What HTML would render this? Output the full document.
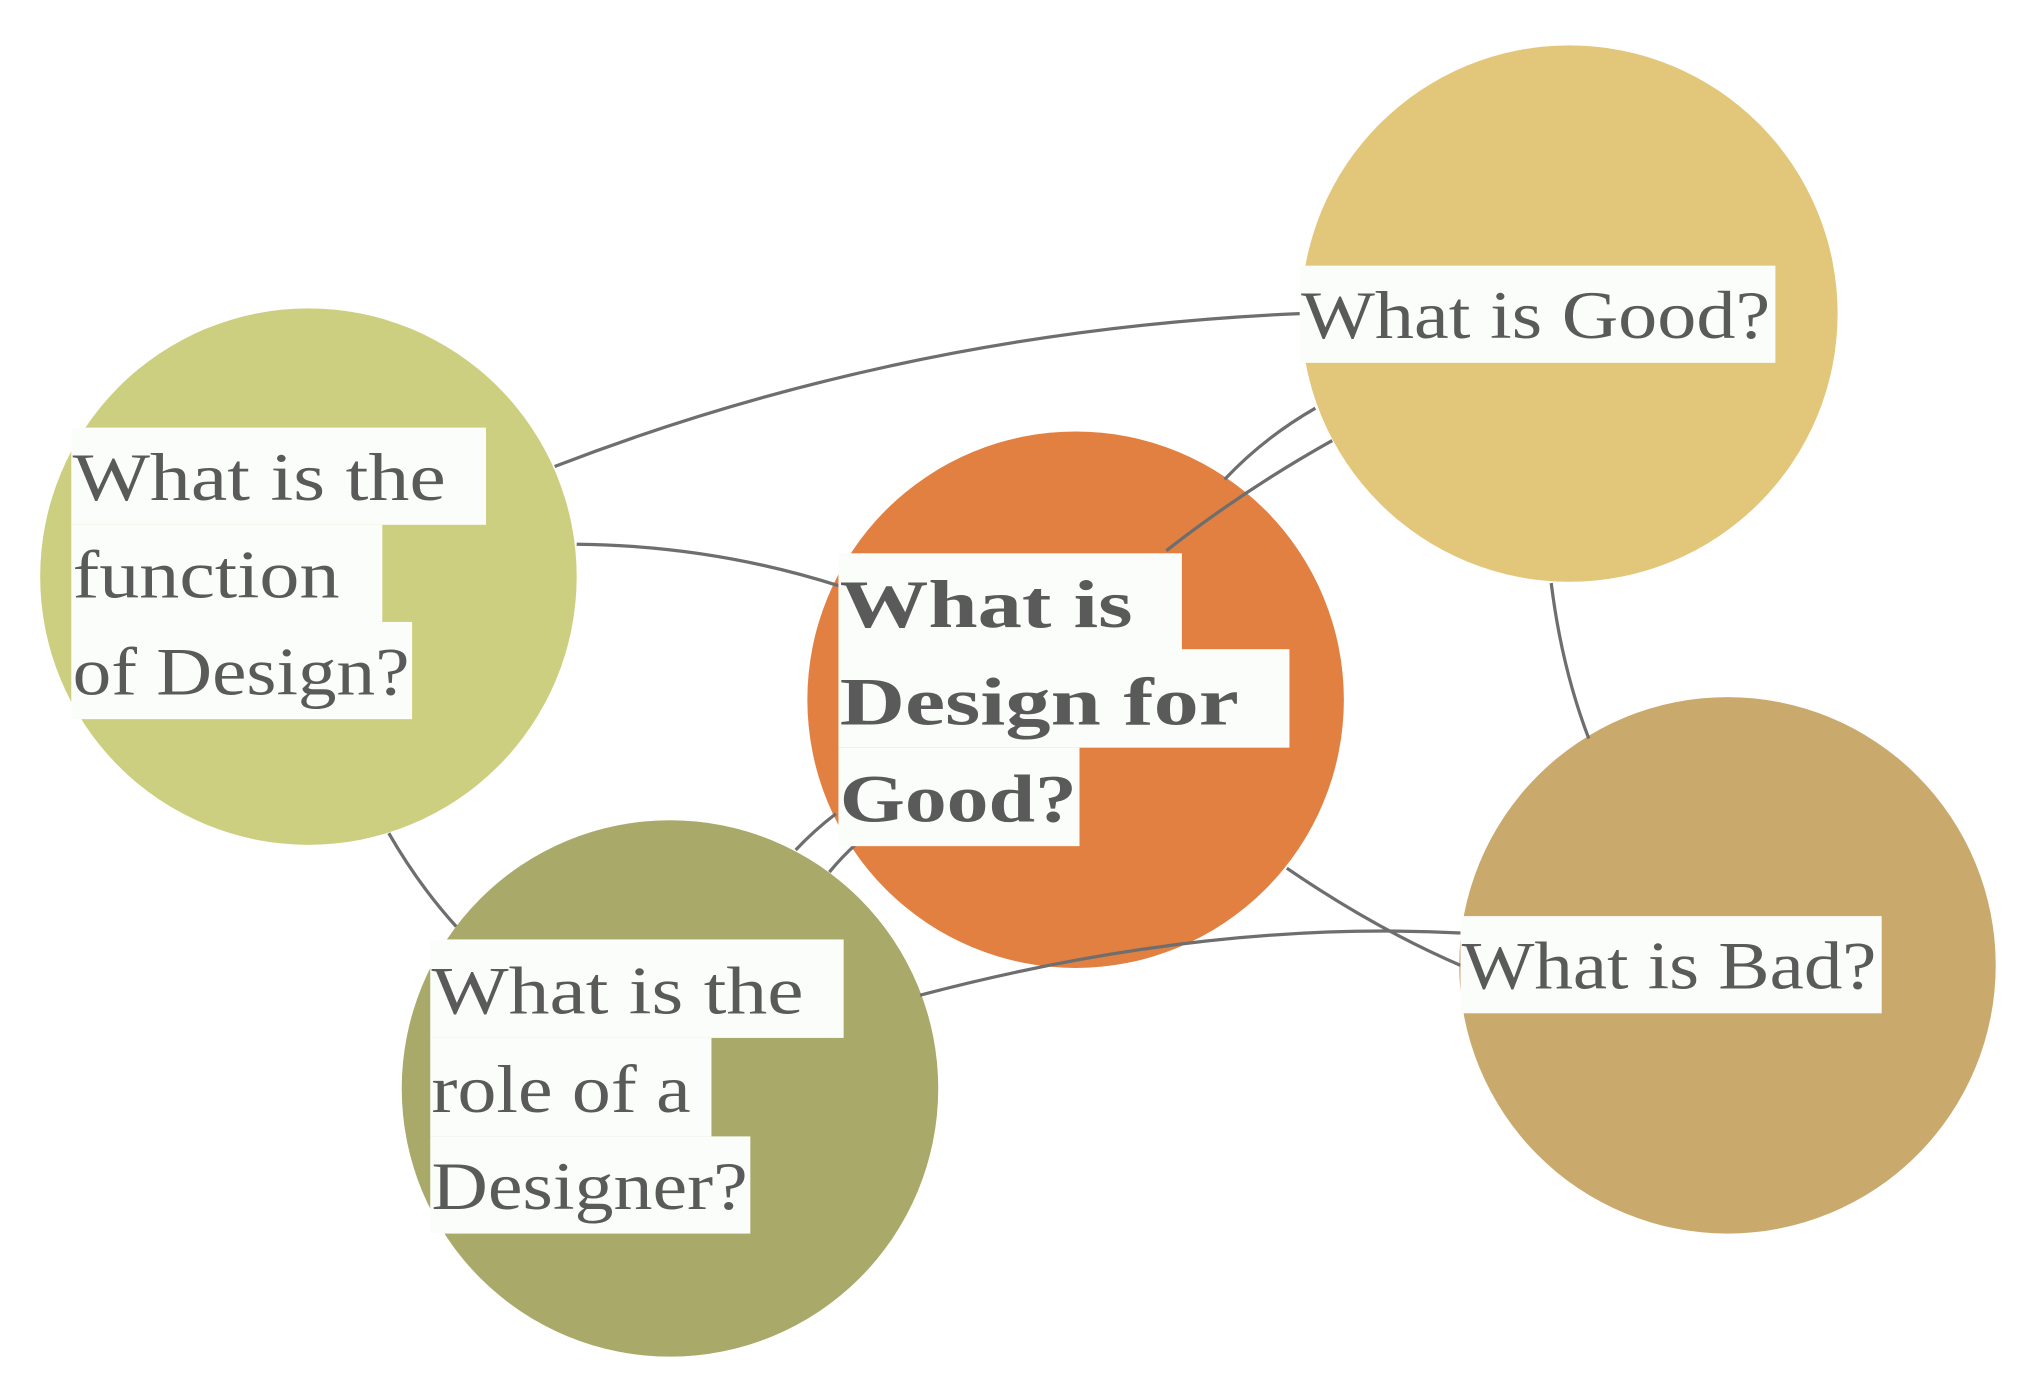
<!DOCTYPE html>
<html><head><meta charset="utf-8"><style>
html,body{margin:0;padding:0;background:#fff;width:2032px;height:1380px;overflow:hidden}
svg{display:block}
text{font-family:"Liberation Serif",serif;fill:#5a5a5a;font-size:52px}
.b{font-weight:bold}
</style></head><body>
<svg width="2032" height="1380" viewBox="0 0 1568 1065" preserveAspectRatio="none">
<g>
<circle cx="238" cy="445" r="207" fill="#cdcf80"/>
<circle cx="1211" cy="242" r="207" fill="#e2c77a"/>
<circle cx="1333" cy="745" r="207" fill="#caa96c"/>
<circle cx="830" cy="540" r="207" fill="#e28042"/>
<circle cx="517" cy="840" r="207" fill="#a9aa6a"/>
</g>
<g fill="none" stroke="#6e6e6e" stroke-width="2.5">
<path d="M428,360 Q700,255 1003,242"/>
<path d="M445,420 Q550,421 647,452"/>
<path d="M945,370 Q975,338 1015,315"/>
<path d="M900,425 Q960,378 1028,340"/>
<path d="M1197,450 Q1205,515 1226,570"/>
<path d="M993,670 Q1060,716 1127,745"/>
<path d="M710,768 Q930,710 1127,720"/>
<path d="M614,656 Q628,641 645,628"/>
<path d="M640,673 Q650,661 660,652"/>
<path d="M300,643 Q323,683 352,715"/>
</g>
<g fill="#fbfdfb">
<rect x="1003" y="205" width="367" height="75"/>
<rect x="55" y="330" width="320" height="75"/>
<rect x="55" y="405" width="240" height="75"/>
<rect x="55" y="480" width="263" height="75"/>
<rect x="647" y="427" width="265" height="75"/>
<rect x="647" y="501" width="348" height="76"/>
<rect x="647" y="577" width="186" height="76"/>
<rect x="332" y="725" width="319" height="76"/>
<rect x="332" y="801" width="217" height="76"/>
<rect x="332" y="877" width="247" height="75"/>
<rect x="1127" y="707" width="325" height="75"/>
</g>
<text x="1004" y="261" textLength="362" lengthAdjust="spacingAndGlyphs">What is Good?</text>
<text x="56" y="386" textLength="288" lengthAdjust="spacingAndGlyphs">What is the</text>
<text x="56" y="461" textLength="206" lengthAdjust="spacingAndGlyphs">function</text>
<text x="56" y="536" textLength="260" lengthAdjust="spacingAndGlyphs">of Design?</text>
<text class="b" x="648" y="484" textLength="226" lengthAdjust="spacingAndGlyphs">What is</text>
<text class="b" x="648" y="559" textLength="308" lengthAdjust="spacingAndGlyphs">Design for</text>
<text class="b" x="648" y="634" textLength="183" lengthAdjust="spacingAndGlyphs">Good?</text>
<text x="333" y="782" textLength="287" lengthAdjust="spacingAndGlyphs">What is the</text>
<text x="333" y="858" textLength="200" lengthAdjust="spacingAndGlyphs">role of a</text>
<text x="333" y="933" textLength="244" lengthAdjust="spacingAndGlyphs">Designer?</text>
<text x="1128" y="763" textLength="320" lengthAdjust="spacingAndGlyphs">What is Bad?</text>
</svg>
</body></html>
